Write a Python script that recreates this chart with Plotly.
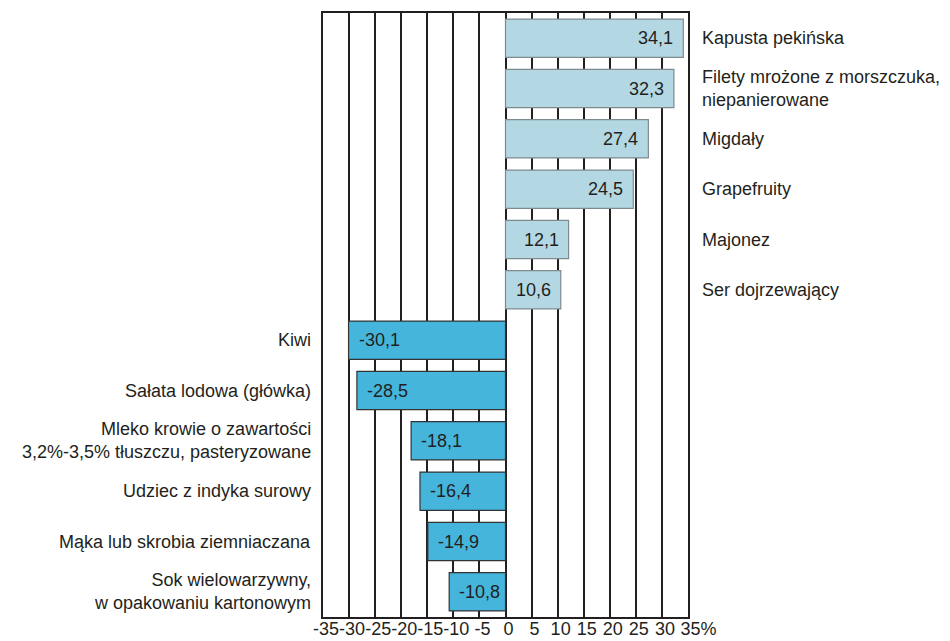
import plotly.graph_objects as go

categories = [
    "Kapusta pekińska",
    "Filety mrożone z morszczuka,<br>niepanierowane",
    "Migdały",
    "Grapefruity",
    "Majonez",
    "Ser dojrzewający",
    "Kiwi",
    "Sałata lodowa (główka)",
    "Mleko krowie o zawartości<br>3,2%-3,5% tłuszczu, pasteryzowane",
    "Udziec z indyka surowy",
    "Mąka lub skrobia ziemniaczana",
    "Sok wielowarzywny,<br>w opakowaniu kartonowym",
]
values = [34.1, 32.3, 27.4, 24.5, 12.1, 10.6, -30.1, -28.5, -18.1, -16.4, -14.9, -10.8]
tick_vals = [-35, -30, -25, -20, -15, -10, -5, 0, 5, 10, 15, 20, 25, 30, 35]
tick_text = ["-35", "-30", "-25", "-20", "-15", "-10", "-5", "0", "5", "10", "15", "20", "25", "30", "35%"]

POS = "#b4d8e3"
NEG = "#45b5dc"
TXT = "#231f20"
FONT = "Liberation Sans, Arial, sans-serif"

ids = list(range(len(categories)))
colors = [POS if v > 0 else NEG for v in values]
line_colors = ["#7f8a8f" if v > 0 else "#333333" for v in values]
texts = [f"{v:.1f}".replace(".", ",") for v in values]
# keep the number of the last tick centred on it, with the % sign hanging to the right
tick_text_disp = tick_text[:-1] + ["\u00a0\u00a0\u00a0" + tick_text[-1]]

fig = go.Figure()
fig.add_trace(go.Bar(
    x=values, y=ids, orientation="h",
    marker=dict(color=colors, line=dict(color=line_colors, width=1.2)),
    width=0.76, hoverinfo="skip",
))

for i, (c, v, t) in enumerate(zip(categories, values, texts)):
    if v > 0:
        fig.add_annotation(x=1, xref="paper", xanchor="left", xshift=12, y=i, yref="y",
                           text=c, showarrow=False, align="left",
                           font=dict(family=FONT, size=18, color=TXT))
        fig.add_annotation(x=v, xref="x", xanchor="right", xshift=-8, y=i, yref="y",
                           text=t, showarrow=False,
                           font=dict(family=FONT, size=18, color=TXT))
    else:
        fig.add_annotation(x=0, xref="paper", xanchor="right", xshift=-10, y=i, yref="y",
                           text=c, showarrow=False, align="right",
                           font=dict(family=FONT, size=18, color=TXT))
        fig.add_annotation(x=v, xref="x", xanchor="left", xshift=8, y=i, yref="y",
                           text=t, showarrow=False,
                           font=dict(family=FONT, size=18, color=TXT))

# page body has an 8px margin, so the figure is sized to fill the 950x641 window
fig.update_layout(
    width=942, height=633,
    margin=dict(l=315, r=262, t=5, b=24),
    plot_bgcolor="white", paper_bgcolor="white",
    showlegend=False,
    font=dict(family=FONT, size=18, color=TXT),
    xaxis=dict(range=[-35, 35], tickvals=tick_vals, ticktext=tick_text_disp, tickangle=0,
               automargin=False, ticklabelshift=3, ticklabelstandoff=-6,
               showgrid=True, gridcolor=TXT, gridwidth=1.5,
               zeroline=False, showline=True, mirror=True, linecolor=TXT, linewidth=2,
               ticks="", tickfont=dict(family=FONT, size=18, color=TXT)),
    yaxis=dict(range=[11.5, -0.5], showticklabels=False, showgrid=False, zeroline=False,
               automargin=False,
               showline=True, mirror=True, linecolor=TXT, linewidth=2, ticks=""),
)

fig.write_html("out.html")
